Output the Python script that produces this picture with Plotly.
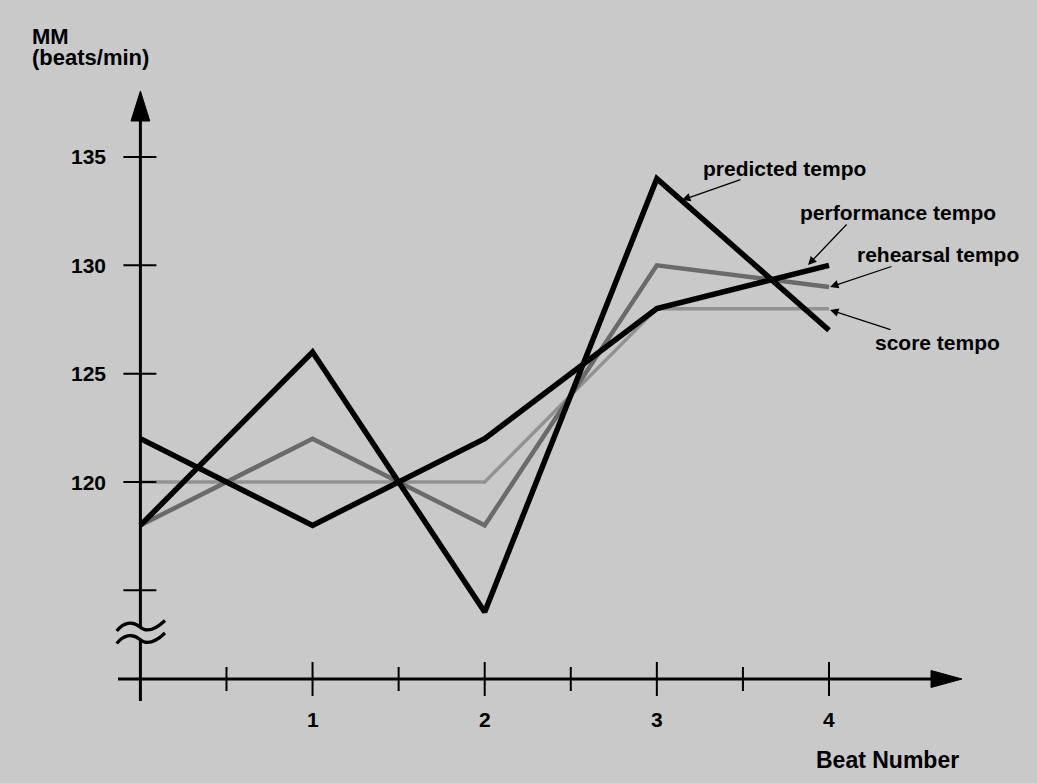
import plotly.graph_objects as go

# ---- data ----
beats = [0, 1, 2, 3, 4]
score_tempo = [120, 120, 120, 128, 128]
rehearsal_tempo = [118, 122, 118, 130, 129]
performance_tempo = [122, 118, 122, 128, 130]
predicted_tempo = [118, 126, 114, 134, 127]
y_tick_vals = [120, 125, 130, 135]
y_tick_unlabeled = [115]
x_tick_vals = [1, 2, 3, 4]
x_minor_ticks = [0.5, 1.5, 2.5, 3.5]

# ---- page geometry (pixel <-> data helpers for decorations) ----
W, H = 1037, 783
X0P, XS = 140.4, 172.15
Y0P, YS, Y0 = 482.0, 21.67, 120.0


def dx(px):
    return (px - X0P) / XS


def dy(py):
    return Y0 + (Y0P - py) / YS


BG = "#c9c9c9"
FONT = "Liberation Sans, Arial, Helvetica, sans-serif"

fig = go.Figure()
fig.add_trace(go.Scatter(x=beats, y=score_tempo, mode="lines",
                         line=dict(color="#929292", width=3.5), name="score tempo"))
fig.add_trace(go.Scatter(x=beats, y=rehearsal_tempo, mode="lines",
                         line=dict(color="#6a6a6a", width=4.5), name="rehearsal tempo"))
fig.add_trace(go.Scatter(x=beats, y=performance_tempo, mode="lines",
                         line=dict(color="#000000", width=5.5), name="performance tempo"))
fig.add_trace(go.Scatter(x=beats, y=predicted_tempo, mode="lines",
                         line=dict(color="#000000", width=5.5), name="predicted tempo"))

shapes = []
# y axis (with break gap)
shapes.append(dict(type="line", x0=0, x1=0, y0=dy(701), y1=dy(639), line=dict(color="black", width=3)))
shapes.append(dict(type="line", x0=0, x1=0, y0=dy(627), y1=dy(118), line=dict(color="black", width=3)))
# y arrow head
shapes.append(dict(type="path",
                   path=f"M {dx(140.4)},{dy(91)} L {dx(131)},{dy(121)} L {dx(149.8)},{dy(121)} Z",
                   fillcolor="black", line=dict(color="black", width=1)))
# x axis
shapes.append(dict(type="line", x0=dx(118), x1=dx(934), y0=dy(679), y1=dy(679), line=dict(color="black", width=3)))
shapes.append(dict(type="path",
                   path=f"M {dx(962)},{dy(679)} L {dx(931)},{dy(670.5)} L {dx(931)},{dy(687.5)} Z",
                   fillcolor="black", line=dict(color="black", width=1)))
# break waves
for off in (0, 12.5):
    p = (f"M {dx(116.7)},{dy(631+off)} C {dx(123)},{dy(623+off)} {dx(132)},{dy(620+off)} {dx(140)},{dy(627+off)} "
         f"C {dx(147)},{dy(633+off)} {dx(155)},{dy(630+off)} {dx(165)},{dy(620.5+off)}")
    shapes.append(dict(type="path", path=p, line=dict(color="black", width=3.2)))
# y ticks
for v in y_tick_vals + y_tick_unlabeled:
    shapes.append(dict(type="line", xref="x", yref="y", xsizemode="pixel", xanchor=0,
                       x0=-17, x1=16, y0=v, y1=v, line=dict(color="black", width=2)))
# x ticks
for v in x_tick_vals:
    shapes.append(dict(type="line", xref="x", yref="y", ysizemode="pixel", yanchor=dy(679),
                       y0=-17, y1=17, x0=v, x1=v, line=dict(color="black", width=2)))
for v in x_minor_ticks:
    shapes.append(dict(type="line", xref="x", yref="y", ysizemode="pixel", yanchor=dy(679),
                       y0=-12, y1=12, x0=v, x1=v, line=dict(color="black", width=2)))

ann = []
# y tick labels
for v in y_tick_vals:
    ann.append(dict(x=dx(108), y=v, text=f"<b>{v}</b>", showarrow=False, xanchor="right", yanchor="middle",
                    font=dict(family=FONT, size=21, color="black")))
# x tick labels
for v in x_tick_vals:
    ann.append(dict(x=v, y=dy(719), text=f"<b>{v}</b>", showarrow=False, xanchor="center", yanchor="middle",
                    font=dict(family=FONT, size=21, color="black")))
# axis titles
ann.append(dict(x=dx(30), y=dy(36), text="<b>MM</b>", showarrow=False, xanchor="left", yanchor="middle",
                font=dict(family=FONT, size=22, color="black")))
ann.append(dict(x=dx(30), y=dy(57), text="<b>(beats/min)</b>", showarrow=False, xanchor="left", yanchor="middle",
                font=dict(family=FONT, size=22, color="black")))
ann.append(dict(x=dx(961), y=dy(760), text="<b>Beat Number</b>", showarrow=False, xanchor="right", yanchor="middle",
                font=dict(family=FONT, size=23, color="black")))

# series labels
labels = [("predicted tempo", 701, 168, (682, 200), (742, 179)),
          ("performance tempo", 798, 212, (808, 265), (848, 223)),
          ("rehearsal tempo", 855, 254, (830, 287), (893, 266)),
          ("score tempo", 873, 342, (830, 310), (892, 330))]
for txt, lx, ly, tip, tail in labels:
    ann.append(dict(x=dx(lx), y=dy(ly), text=f"<b>{txt}</b>", showarrow=False, xanchor="left", yanchor="middle",
                    font=dict(family=FONT, size=21, color="black")))
    ann.append(dict(x=dx(tip[0]), y=dy(tip[1]), text="", showarrow=True,
                    ax=tail[0] - tip[0], ay=tail[1] - tip[1],
                    arrowhead=2, arrowsize=1.3, arrowwidth=1.3, arrowcolor="black",
                    standoff=0, startstandoff=0))

fig.update_layout(
    width=W, height=H,
    margin=dict(l=0, r=0, t=0, b=0),
    paper_bgcolor=BG, plot_bgcolor=BG,
    showlegend=False,
    xaxis=dict(range=[dx(0), dx(W)], visible=False, fixedrange=True),
    yaxis=dict(range=[dy(H), dy(0)], visible=False, fixedrange=True),
    shapes=shapes,
    annotations=ann,
)

fig.write_html("out.html", config={"displayModeBar": False},
               post_script="document.body.style.margin='0px';document.body.style.overflow='hidden';")
